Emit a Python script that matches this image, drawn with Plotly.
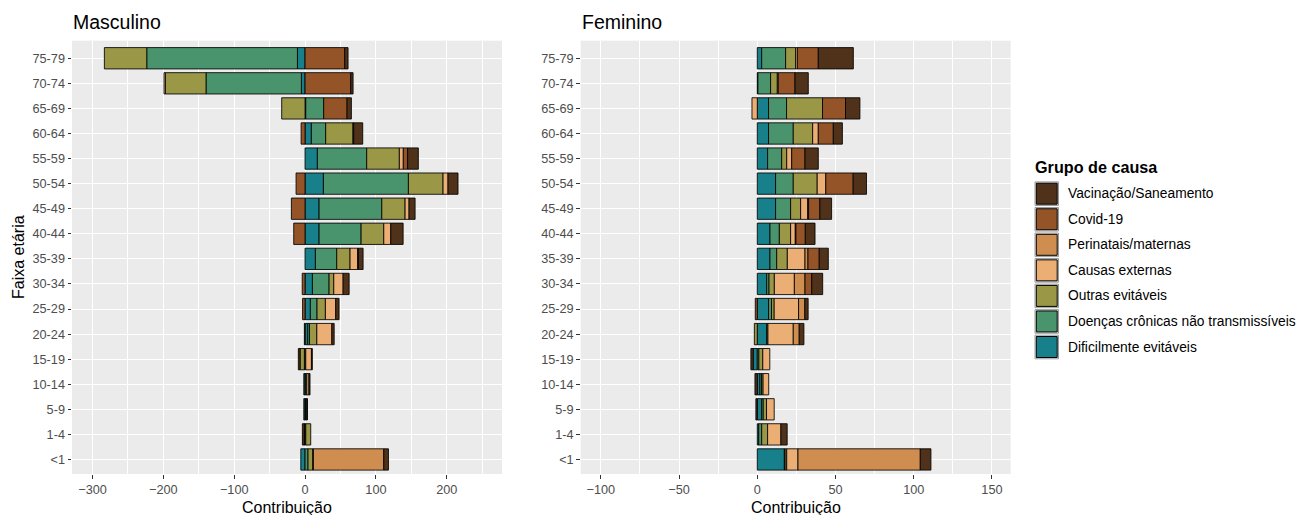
import plotly.graph_objects as go

W, H = 1299, 515

age_groups = ["<1", "1-4", "5-9", "10-14", "15-19", "20-24", "25-29", "30-34", "35-39",
              "40-44", "45-49", "50-54", "55-59", "60-64", "65-69", "70-74", "75-79"]

cause_groups = ["Dificilmente evitáveis", "Doenças crônicas não transmissíveis", "Outras evitáveis",
                "Causas externas", "Perinatais/maternas", "Covid-19", "Vacinação/Saneamento"]
cause_colors = ["#17808A", "#4A946D", "#9A9747", "#EBAE74", "#CF8D50", "#955428", "#4F3219"]

# Masculino (order follows age_groups)
m_dific = [-6.0, -1.0, -1.8, -1.8, -1.0, 3.8, 7.5, 10.4, 14.6, 19.8, 19.8, 25.9, 17.4, 8.9, 1.0, -5.2, -10.8]
m_dcnt = [4.2, 1.0, 0.8, 1.0, 1.0, 2.4, 9.4, 23.5, 30.1, 59.3, 88.5, 120.0, 69.6, 20.2, 25.3, -134.6, -212.7]
m_outras = [6.6, 7.0, 0.8, 1.5, -6.0, 10.4, 11.8, 6.6, 18.8, 32.0, 32.9, 48.9, 46.1, 38.6, -33.0, -57.4, -59.8]
m_externas = [1.0, 0, 1.2, 3.0, 8.0, 21.2, 14.6, 13.2, 10.8, 9.9, 5.6, 7.0, 5.6, 1.0, 0, -1.9, 0]
m_perinatais = [99.3, 0, 0, 0, 0, 0, 0, 0, 0, 0, 0, 0, 0, 0, 0, 0, 0]
m_covid = [0, 0, 0, 0, 1.3, -1.0, -3.5, -4.0, 1.0, -16.0, -19.3, -12.7, 6.1, -5.6, 33.0, 64.5, 56.0]
m_vacina = [6.6, -2.8, 0.5, 1.5, -2.5, 3.3, 4.7, 8.5, 6.6, 17.4, 8.5, 14.1, 15.1, 12.7, 6.1, 3.3, 4.7]

# Feminino
f_dific = [17.3, 0.9, 2.8, 1.7, -2.6, 6.0, 7.2, 6.0, 8.1, 8.1, 11.7, 11.7, 6.6, 7.2, 7.2, 0.4, 2.8]
f_dcnt = [0.5, 1.9, 1.0, 1.0, 1.0, 0.8, 1.9, 1.5, 4.3, 6.0, 9.6, 11.3, 9.0, 15.8, 11.5, 8.1, 15.3]
f_outras = [1.0, 3.8, 2.1, 1.0, 2.5, -1.9, 1.7, 3.4, 6.8, 7.2, 6.4, 15.3, 3.2, 12.4, 23.0, 4.3, 6.4]
f_externas = [7.2, 8.5, 4.9, 3.6, 4.5, 16.2, 15.6, 12.8, 11.3, 3.0, 4.5, 5.5, 3.2, 3.6, -3.4, 0.6, 1.1]
f_perinatais = [78.2, 0, 0, 0, 0, 3.8, 4.0, 6.8, 1.9, 0.4, 0.6, 0, 0, 0, 0, 0, 0]
f_covid = [0, 0, 0, 0, 0, 0, -1.3, 4.3, 7.2, 6.0, 7.2, 17.5, 8.5, 9.6, 14.7, 10.7, 13.4]
f_vacina = [6.8, 4.0, -0.9, -1.5, -1.5, 3.0, 2.1, 7.0, 5.8, 6.2, 7.5, 8.5, 8.5, 5.8, 9.2, 8.5, 22.4]

male_series = [m_dific, m_dcnt, m_outras, m_externas, m_perinatais, m_covid, m_vacina]
female_series = [f_dific, f_dcnt, f_outras, f_externas, f_perinatais, f_covid, f_vacina]

FONT = "Liberation Sans, Arial, sans-serif"


def px_x(x):
    return x / W


def px_y(y):
    return 1 - y / H


fig = go.Figure()
for series_set, xa, ya in [(male_series, "x", "y"), (female_series, "x2", "y2")]:
    for name, color, vals in zip(cause_groups, cause_colors, series_set):
        fig.add_trace(go.Bar(
            x=[v if v != 0 else None for v in vals], y=age_groups, orientation="h",
            name=name, marker=dict(color=color, line=dict(color="rgba(0,0,0,0.85)", width=1)),
            xaxis=xa, yaxis=ya, showlegend=False,
        ))

tickfont = dict(family=FONT, size=12.7, color="#4D4D4D")
ydom = [px_y(474), px_y(40.7)]
yrange = [-0.58, 16.7]

common_x = dict(showgrid=True, gridcolor="white", gridwidth=1.1, zeroline=False,
                ticks="outside", ticklen=3.5, tickwidth=1, tickcolor="#333333",
                tickfont=tickfont, showline=False)
common_y = dict(showgrid=True, gridcolor="white", gridwidth=1.1, zeroline=False,
                ticks="outside", ticklen=3.5, tickwidth=1, tickcolor="#333333",
                tickfont=tickfont, type="category", categoryorder="array",
                categoryarray=age_groups, range=yrange, domain=ydom, showline=False)

fig.update_layout(
    width=W, height=H, margin=dict(l=0, r=0, t=0, b=0),
    paper_bgcolor="white", plot_bgcolor="#EBEBEB",
    barmode="relative", bargap=0.15, showlegend=False,
    font=dict(family=FONT),
    xaxis=dict(domain=[px_x(72), px_x(502)], range=[-329, 278], dtick=100, tick0=0,
               minor=dict(dtick=50, tick0=0, showgrid=True, gridcolor="white", gridwidth=0.5, ticks=""),
               anchor="y", **common_x),
    yaxis=dict(anchor="x", **common_y),
    xaxis2=dict(domain=[px_x(580.7), px_x(1010.7)], range=[-112.9, 162], dtick=50, tick0=0,
                minor=dict(dtick=25, tick0=0, showgrid=True, gridcolor="white", gridwidth=0.5, ticks=""),
                anchor="y2", **common_x),
    yaxis2=dict(anchor="x2", **common_y),
)

annotations = []
title_font = dict(family=FONT, size=19.5, color="black")
axis_title_font = dict(family=FONT, size=16, color="black")
annotations.append(dict(text="Masculino", x=px_x(71), y=px_y(22), xref="paper", yref="paper",
                        xanchor="left", yanchor="middle", showarrow=False, font=title_font))
annotations.append(dict(text="Feminino", x=px_x(579.7), y=px_y(22), xref="paper", yref="paper",
                        xanchor="left", yanchor="middle", showarrow=False, font=title_font))
annotations.append(dict(text="Contribuição", x=px_x(287), y=px_y(507), xref="paper", yref="paper",
                        xanchor="center", yanchor="middle", showarrow=False, font=axis_title_font))
annotations.append(dict(text="Contribuição", x=px_x(795.7), y=px_y(507), xref="paper", yref="paper",
                        xanchor="center", yanchor="middle", showarrow=False, font=axis_title_font))
annotations.append(dict(text="Faixa etária", x=px_x(18), y=px_y(257), xref="paper", yref="paper",
                        xanchor="center", yanchor="middle", textangle=-90, showarrow=False,
                        font=axis_title_font))
annotations.append(dict(text="<b>Grupo de causa</b>", x=px_x(1033), y=px_y(167), xref="paper", yref="paper",
                        xanchor="left", yanchor="middle", showarrow=False,
                        font=dict(family=FONT, size=16.2, color="black")))

shapes = []
legend_order = list(zip(cause_groups, cause_colors))[::-1]
for i, (name, color) in enumerate(legend_order):
    cy = 193.7 + i * 25.55
    shapes.append(dict(type="rect", xref="paper", yref="paper",
                       x0=px_x(1035), x1=px_x(1058.5), y0=px_y(cy - 11.8), y1=px_y(cy + 11.8),
                       fillcolor="#F2F2F2", line=dict(color="#9A9A9A", width=1)))
    shapes.append(dict(type="rect", xref="paper", yref="paper",
                       x0=px_x(1036.3), x1=px_x(1057.2), y0=px_y(cy - 10.5), y1=px_y(cy + 10.5),
                       fillcolor=color, line=dict(color="black", width=1)))
    annotations.append(dict(text=name, x=px_x(1065.5), y=px_y(cy), xref="paper", yref="paper",
                            xanchor="left", yanchor="middle", showarrow=False,
                            font=dict(family=FONT, size=13.8, color="black")))

fig.update_layout(annotations=annotations, shapes=shapes)
fig.write_html("out.html")
